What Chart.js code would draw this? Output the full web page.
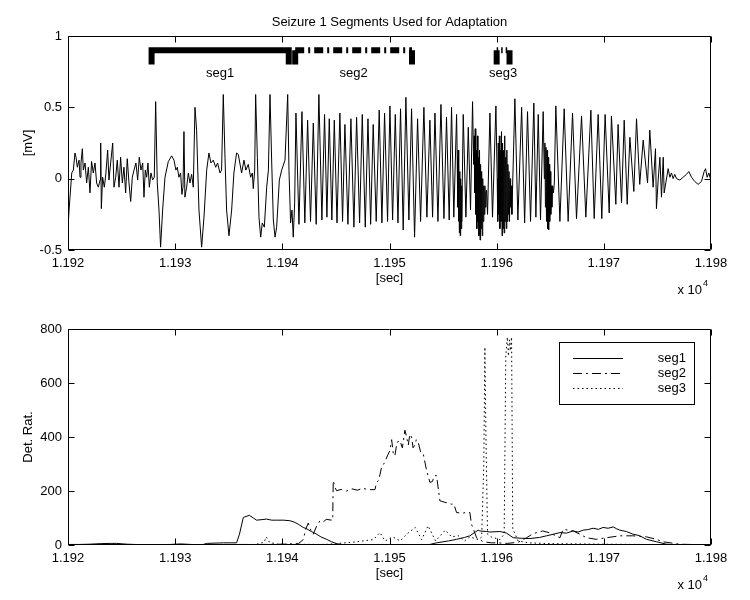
<!DOCTYPE html>
<html>
<head>
<meta charset="utf-8">
<script src="https://cdn.jsdelivr.net/npm/chart.js@4.4.1/dist/chart.umd.min.js"></script>
<style>
  body { margin: 0; background: #fff; }
  #wrap { position: relative; width: 750px; height: 600px; }
  canvas { position: absolute; left: 0; }
  #topChart { top: 0; }
  #bottomChart { top: 300px; }
</style>
</head>
<body>
<div id="wrap">
  <canvas id="topChart" width="750" height="300"></canvas>
  <canvas id="bottomChart" width="750" height="300"></canvas>
</div>
<script>
// EEG trace [sec, mV]
const signal = [
  [11920.0,-0.34],[11920.1,-0.22],[11920.35,0.04],[11920.5,0.06],[11920.65,0.18],[11920.75,0.15],[11920.87,0.08],[11921.03,0.13],
  [11921.12,0.01],[11921.21,0.11],[11921.34,0.21],[11921.43,0.06],[11921.59,0.11],[11921.74,-0.03],[11921.9,0.08],[11922.05,-0.10],
  [11922.2,0.12],[11922.36,0.04],[11922.52,0.11],[11922.67,-0.03],[11922.83,-0.06],[11922.99,-0.01],[11923.05,0.25],[11923.11,-0.21],
  [11923.23,0.01],[11923.39,-0.06],[11923.54,0.04],[11923.7,0.20],[11923.82,-0.01],[11923.98,0.11],[11924.17,0.25],[11924.29,-0.06],
  [11924.45,0.01],[11924.6,0.13],[11924.76,-0.06],[11924.91,0.15],[11925.07,-0.03],[11925.22,0.08],[11925.38,-0.10],[11925.53,0.14],
  [11925.69,-0.03],[11925.85,-0.16],[11926.0,0.01],[11926.16,0.06],[11926.34,0.11],[11926.5,-0.01],[11926.65,0.15],[11926.81,0.06],
  [11926.97,0.11],[11927.09,-0.13],[11927.21,0.06],[11927.34,0.01],[11927.46,0.11],[11927.59,-0.06],[11927.74,0.04],[11927.9,-0.01],
  [11928.05,0.01],[11928.18,0.54],[11928.33,-0.03],[11928.49,-0.22],[11928.64,-0.48],[11928.83,-0.22],[11929.05,0.01],[11929.36,0.12],
  [11929.67,0.16],[11929.89,0.13],[11930.07,0.06],[11930.2,0.08],[11930.35,0.01],[11930.51,0.04],[11930.63,-0.11],[11930.73,-0.06],
  [11930.82,0.33],[11930.91,-0.13],[11931.07,-0.06],[11931.23,0.04],[11931.38,-0.03],[11931.54,0.03],[11931.69,-0.06],[11931.85,0.50],
  [11932.0,0.34],[11932.22,-0.22],[11932.47,-0.48],[11932.69,-0.27],[11932.94,0.06],[11933.15,0.18],[11933.34,0.11],[11933.56,0.13],
  [11933.78,0.08],[11933.96,0.11],[11934.18,0.04],[11934.33,0.06],[11934.49,0.59],[11934.65,0.15],[11934.8,-0.22],[11935.02,-0.40],
  [11935.27,-0.22],[11935.48,0.04],[11935.73,0.18],[11935.89,0.17],[11936.2,0.04],[11936.42,0.13],[11936.6,0.06],[11936.82,0.10],
  [11937.04,0.01],[11937.2,0.04],[11937.29,-0.07],[11937.42,0.06],[11937.51,0.59],[11937.67,0.15],[11937.82,-0.27],[11937.98,-0.41],
  [11938.13,-0.31],[11938.32,-0.34],[11938.54,-0.06],[11938.7,0.06],[11938.85,0.59],[11939.01,0.11],[11939.16,-0.29],[11939.32,-0.41],
  [11939.47,-0.34],[11939.72,-0.01],[11939.94,0.06],[11940.25,0.13],[11940.5,0.59],[11940.62,0.06],[11940.77,-0.31],[11940.9,-0.22],
  [11941.02,-0.41],[11941.15,-0.17],
  [11941.27,0.46],[11941.55,-0.32],[11941.83,0.47],[11942.1,-0.31],[11942.36,0.41],[11942.63,-0.30],[11942.89,0.39],[11943.16,-0.32],
  [11943.41,0.59],[11943.69,-0.29],[11943.94,0.45],[11944.16,-0.27],[11944.38,0.42],[11944.62,-0.29],[11944.85,0.41],[11945.1,-0.31],
  [11945.37,0.46],[11945.62,-0.30],[11945.84,0.38],[11946.12,-0.32],[11946.4,0.42],[11946.68,-0.34],[11946.93,0.43],[11947.21,-0.31],
  [11947.46,0.45],[11947.74,-0.34],[11947.99,0.42],[11948.24,-0.32],[11948.48,0.38],[11948.76,-0.30],[11949.04,0.48],[11949.29,-0.31],
  [11949.54,0.46],[11949.82,-0.30],[11950.04,0.51],[11950.29,-0.29],[11950.54,0.45],[11950.79,-0.31],[11951.03,0.49],[11951.28,-0.36],
  [11951.53,0.57],[11951.81,-0.29],[11952.06,0.49],[11952.34,-0.41],[11952.62,0.42],[11952.9,-0.30],[11953.21,0.50],[11953.49,-0.27],
  [11953.77,0.41],[11954.02,-0.27],[11954.24,0.46],[11954.52,-0.30],[11954.8,0.52],[11955.08,-0.28],[11955.32,0.43],[11955.57,-0.29],
  [11955.79,0.50],[11956.0,-0.27],[11956.26,0.45],
  [11956.32,0.15],[11956.36,-0.2],[11956.40,0.2],[11956.44,-0.3],[11956.48,0.1],[11956.52,-0.38],[11956.56,0.05],[11956.6,-0.4],
  [11956.64,0.0],[11956.68,-0.35],[11956.72,-0.05],[11956.76,-0.3],
  [11956.88,0.45],[11957.13,-0.27],[11957.35,0.36],[11957.56,-0.22],[11957.75,0.54],
  [11957.85,0.1],[11957.9,0.3],[11957.95,-0.1],[11958.0,0.35],[11958.05,-0.25],[11958.1,0.2],[11958.15,-0.35],[11958.2,0.3],
  [11958.25,-0.3],[11958.3,0.15],[11958.35,-0.4],[11958.4,0.2],[11958.45,-0.43],[11958.5,0.1],[11958.55,-0.35],[11958.6,0.05],
  [11958.65,-0.4],[11958.7,0.0],[11958.75,-0.3],[11958.8,-0.05],[11958.85,-0.25],[11958.9,-0.05],[11958.95,-0.2],[11959.0,-0.1],
  [11959.05,-0.08],[11959.15,-0.25],
  [11959.37,0.46],[11959.61,-0.27],[11959.93,0.51],
  [11960.05,0.0],[11960.1,-0.3],[11960.15,0.25],[11960.2,-0.25],[11960.25,0.3],[11960.3,-0.35],[11960.35,0.2],[11960.4,-0.3],
  [11960.45,0.33],[11960.5,-0.4],[11960.55,0.25],[11960.6,-0.35],[11960.65,0.2],[11960.7,-0.38],[11960.75,0.3],[11960.8,-0.3],
  [11960.85,0.15],[11960.9,-0.35],[11960.95,0.2],[11961.0,-0.3],[11961.05,0.1],[11961.1,-0.25],[11961.15,0.05],[11961.2,-0.3],
  [11961.25,0.0],[11961.3,-0.2],[11961.35,-0.05],[11961.42,-0.25],
  [11961.7,0.56],[11961.98,-0.29],[11962.33,0.50],[11962.61,-0.31],[11962.88,0.47],[11963.16,-0.30],[11963.47,0.53],[11963.66,-0.27],
  [11963.88,0.45],[11964.09,-0.29],[11964.34,0.47],
  [11964.45,0.0],[11964.5,0.25],[11964.55,-0.2],[11964.6,0.22],[11964.65,-0.3],[11964.7,0.2],[11964.75,-0.35],[11964.8,0.15],
  [11964.85,-0.36],[11964.9,0.1],[11964.95,-0.3],[11965.0,0.05],[11965.05,-0.25],[11965.1,-0.05],[11965.15,-0.2],[11965.22,-0.05],
  [11965.3,-0.1],[11965.38,-0.03],
  [11965.52,0.51],[11965.9,-0.30],[11966.3,0.49],[11966.67,-0.30],[11967.08,0.46],[11967.45,-0.28],[11967.92,0.44],[11968.32,-0.27],
  [11968.79,0.48],[11969.1,-0.28],[11969.47,0.45],[11969.81,-0.28],[11970.12,0.45],[11970.5,-0.24],[11970.71,0.44],[11971.12,-0.18],
  [11971.33,0.38],[11971.65,-0.17],[11971.9,0.41],[11972.18,-0.18],[11972.43,0.29],[11972.8,-0.09],[11973.05,0.42],[11973.35,-0.04],
  [11973.67,0.27],[11974.08,-0.03],[11974.29,0.34],[11974.6,-0.06],[11974.82,0.21],[11974.91,-0.21],[11975.07,-0.01],[11975.23,0.15],
  [11975.38,-0.13],[11975.54,0.15],[11975.63,-0.10],[11976.0,0.07],
  [11976.16,0.01],[11976.31,0.04],[11976.47,0.0],[11976.62,0.03],[11976.78,0.0],[11977.09,-0.01],[11977.4,0.01],[11977.71,0.03],
  [11977.93,0.05],[11978.18,0.01],[11978.49,-0.02],[11978.8,-0.04],[11979.11,-0.02],[11979.36,0.05],[11979.49,0.07],[11979.64,0.01],
  [11979.8,0.04],[11979.98,-0.01]
];

// adaptation segments [sec]
const segNames = ['seg1', 'seg2', 'seg3'];
const segStart = [11927.8, 11941.2, 11960.0];
const segEnd = [11940.6, 11952.1, 11961.2];

// detection ratio per segment [sec, ratio]
const seg1Ratio = [
  [11920,2],[11921,2],[11922,3],[11923,5],[11924,6],[11924.5,6],[11925.5,3],[11927,1],[11929,1],[11930,3],[11930.5,4],
  [11931.5,2],[11932.5,1],[11933,6],[11934.5,8],[11935.73,8],[11936.0,40],[11936.36,102],[11936.92,110],[11937.3,100],
  [11937.6,92],[11938.1,94],[11938.53,96],[11939.0,92],[11939.47,92],[11940.09,92],[11940.7,90],[11941.1,85],[11941.49,77],
  [11941.95,65],[11942.27,60],[11942.7,50],[11943.2,40],[11943.6,30],[11944.13,21],[11944.6,12],[11945.06,5],[11945.68,1],
  [11948,0],[11951,0],[11953.77,2],[11954.39,8],[11955.5,15],[11956.26,21],[11957.0,28],[11957.5,34],[11958.0,48],
  [11958.28,55],[11958.43,52],[11959.06,50],[11959.37,48],[11960.3,50],[11960.92,44],[11961.54,27],[11962.3,25],[11963.1,24],
  [11964.0,28],[11964.65,34],[11965.3,40],[11965.9,46],[11966.5,44],[11967.14,52],[11967.6,48],[11968.07,55],[11968.5,57],
  [11969.0,62],[11969.5,58],[11969.93,65],[11970.4,62],[11970.87,67],[11971.2,60],[11971.49,55],[11972.1,50],[11972.73,40],
  [11973.3,35],[11973.98,21],[11974.91,12],[11975.84,3],[11977.09,0],[11980,0]
];
const seg2Ratio = [
  [11920,1],[11925,2],[11930,1],[11935,2],[11938,2],[11940,3],[11941.5,5],[11941.95,20],[11942.2,60],[11942.42,81],
  [11942.6,60],[11942.88,40],[11943.2,70],[11943.5,89],[11943.8,85],[11944.1,95],[11944.6,92],[11944.7,92],[11944.75,238],
  [11944.9,215],[11945.06,201],[11945.5,206],[11946,200],[11946.5,208],[11947,203],[11947.5,210],[11948,205],[11948.64,205],
  [11948.8,232],[11949.0,240],[11949.26,288],[11949.57,307],[11949.8,330],[11950.04,350],[11950.2,390],[11950.35,340],
  [11950.5,330],[11950.7,380],[11950.97,387],[11951.2,360],[11951.44,425],[11951.6,400],[11951.75,370],[11951.9,410],
  [11952.06,400],[11952.2,360],[11952.37,370],[11952.5,390],[11952.68,380],[11952.9,345],[11953.15,338],[11953.46,276],
  [11953.77,232],[11954.0,235],[11954.2,257],[11954.39,257],[11954.7,164],[11955.17,158],[11955.5,155],[11955.79,151],
  [11956.0,152],[11956.26,120],[11956.88,118],[11957.2,122],[11957.5,120],[11957.65,77],[11958.13,27],[11958.75,12],
  [11959.5,8],[11960,8],[11961,6],[11962,10],[11962.8,27],[11963.4,42],[11964.3,52],[11964.96,45],[11965.9,27],[11966.2,58],
  [11967.14,52],[11967.76,40],[11968.38,27],[11969.3,21],[11970.25,27],[11971.5,34],[11972.7,34],[11974,30],[11974.9,21],
  [11975.5,12],[11977.1,3],[11980,0]
];
const seg3Ratio = [
  [11920,0],[11930,1],[11935,1],[11937.5,2],[11938.3,10],[11938.5,30],[11938.8,10],[11939.5,3],[11944,2],[11946.5,10],
  [11948.5,20],[11949.1,46],[11949.6,15],[11950.3,30],[11951.0,15],[11951.6,40],[11952.4,65],[11953.0,20],[11953.6,71],
  [11954.3,15],[11955.2,55],[11955.8,30],[11956.4,35],[11957,15],[11957.5,30],[11958.3,20],[11958.6,30],[11958.8,300],
  [11958.9,733],[11959.0,400],[11959.15,40],[11959.5,30],[11960.3,20],[11960.7,40],[11960.85,700],[11961.0,770],
  [11961.1,700],[11961.2,760],[11961.3,720],[11961.39,770],[11961.5,60],[11962,15],[11963,8],[11965,5],[11970,3],[11980,0]
];

const FONT = "'Liberation Sans', Arial, Helvetica, sans-serif";
Chart.defaults.font.family = FONT;
Chart.defaults.font.size = 13;
Chart.defaults.color = '#000';

const DASHDOT = [9, 4, 2, 4];
const DOTTED = [1.5, 3];
const segDash = [[], DASHDOT, DOTTED];
const barLevel = 0.9, legLevel = 0.8, segLabelLevel = 0.74;

const toXY = arr => arr.map(p => ({ x: p[0], y: p[1] }));

// box, inward ticks and the axis texts, matlab style
const frame = {
  id: 'frame',
  afterDraw(chart, args, opts) {
    const { ctx, chartArea: a, scales: { x, y } } = chart;
    const L = Math.round(a.left) + 0.5, R = Math.round(a.right) - 0.5;
    const T = Math.round(a.top) + 0.5, B = Math.round(a.bottom) - 0.5;
    ctx.save();
    ctx.strokeStyle = '#000';
    ctx.lineWidth = 1;
    ctx.beginPath();
    ctx.rect(L, T, R - L, B - T);
    x.ticks.forEach(t => {
      const px = Math.round(x.getPixelForValue(t.value)) + 0.5;
      ctx.moveTo(px, B); ctx.lineTo(px, B - 6);
      ctx.moveTo(px, T); ctx.lineTo(px, T + 6);
    });
    y.ticks.forEach(t => {
      const py = Math.round(y.getPixelForValue(t.value)) + 0.5;
      ctx.moveTo(L, py); ctx.lineTo(L + 6, py);
      ctx.moveTo(R, py); ctx.lineTo(R - 6, py);
    });
    ctx.stroke();

    ctx.fillStyle = '#000';
    ctx.font = '13px ' + FONT;
    ctx.textBaseline = 'middle';
    ctx.textAlign = 'center';
    const midX = (a.left + a.right) / 2;
    if (opts.title) ctx.fillText(opts.title, midX, a.top - 14);
    ctx.fillText(opts.xLabel, midX, a.bottom + 28);
    ctx.textAlign = 'right';
    ctx.fillText('x 10', a.right - 9, a.bottom + 40);
    ctx.font = '9px ' + FONT;
    ctx.textAlign = 'left';
    ctx.fillText('4', a.right - 8, a.bottom + 34);

    ctx.font = '13px ' + FONT;
    ctx.translate(28, (a.top + a.bottom) / 2);
    ctx.rotate(-Math.PI / 2);
    ctx.textAlign = 'center';
    ctx.fillText(opts.yLabel, 0, 0);
    ctx.restore();
  }
};

const segText = {
  id: 'segText',
  afterDatasetsDraw(chart) {
    const { ctx, scales: { x, y } } = chart;
    ctx.save();
    ctx.font = '13px ' + FONT;
    ctx.fillStyle = '#000';
    ctx.textAlign = 'center';
    ctx.textBaseline = 'middle';
    segNames.forEach((name, i) => {
      const mid = (segStart[i] + segEnd[i]) / 2;
      ctx.fillText(name, x.getPixelForValue(mid), y.getPixelForValue(segLabelLevel));
    });
    ctx.restore();
  }
};

const boxLegend = {
  id: 'boxLegend',
  afterDraw(chart, args, opts) {
    const { ctx } = chart;
    const b = opts.box;
    ctx.save();
    ctx.fillStyle = '#fff';
    ctx.fillRect(b.left, b.top, b.width, b.height);
    ctx.strokeStyle = '#000';
    ctx.lineWidth = 1;
    ctx.strokeRect(b.left + 0.5, b.top + 0.5, b.width, b.height);
    ctx.font = '13px ' + FONT;
    ctx.fillStyle = '#000';
    ctx.textAlign = 'right';
    ctx.textBaseline = 'middle';
    chart.data.datasets.forEach((ds, i) => {
      const yy = Math.round(b.top + 16 + i * 15) + 0.5;
      ctx.setLineDash(ds.borderDash || []);
      ctx.beginPath();
      ctx.moveTo(b.left + 14, yy);
      ctx.lineTo(b.left + 64, yy);
      ctx.stroke();
      ctx.setLineDash([]);
      ctx.fillText(ds.label, b.left + b.width - 8, yy);
    });
    ctx.restore();
  }
};

function xScale(height) {
  return {
    type: 'linear', min: 11920, max: 11980,
    ticks: { stepSize: 10, padding: 6, maxRotation: 0, autoSkip: false, callback: v => (v / 10000).toFixed(3) },
    grid: { display: false, drawTicks: false },
    border: { display: false },
    afterFit: s => { s.height = height; }
  };
}

const segDatasets = segNames.map((name, i) => ({
  data: [
    { x: segStart[i], y: legLevel }, { x: segStart[i], y: barLevel },
    { x: segEnd[i], y: barLevel }, { x: segEnd[i], y: legLevel }
  ],
  borderColor: '#000',
  borderWidth: 6,
  borderCapStyle: 'butt',
  borderJoinStyle: 'miter',
  pointRadius: 0,
  segment: { borderDash: ctx => ctx.p0DataIndex === 1 ? segDash[i] : [] }
}));

new Chart(document.getElementById('topChart'), {
  type: 'line',
  data: {
    datasets: [
      { data: toXY(signal), borderColor: '#000', borderWidth: 1, pointRadius: 0, tension: 0 },
      ...segDatasets
    ]
  },
  options: {
    responsive: false, animation: false, devicePixelRatio: 1,
    layout: { padding: { top: 36, right: 39, left: 0, bottom: 0 } },
    plugins: {
      legend: { display: false }, tooltip: { enabled: false },
      frame: { title: 'Seizure 1 Segments Used for Adaptation', xLabel: '[sec]', yLabel: '[mV]' }
    },
    scales: {
      x: xScale(50),
      y: {
        min: -0.5, max: 1,
        ticks: { stepSize: 0.5, padding: 6, callback: v => String(v) },
        grid: { display: false, drawTicks: false },
        border: { display: false },
        afterFit: s => { s.width = 68; }
      }
    }
  },
  plugins: [frame, segText]
});

new Chart(document.getElementById('bottomChart'), {
  type: 'line',
  data: {
    datasets: [
      { label: 'seg1', data: toXY(seg1Ratio), borderColor: '#000', borderWidth: 1, pointRadius: 0 },
      { label: 'seg2', data: toXY(seg2Ratio), borderColor: '#000', borderWidth: 1, pointRadius: 0, borderDash: DASHDOT },
      { label: 'seg3', data: toXY(seg3Ratio), borderColor: '#000', borderWidth: 1, pointRadius: 0, borderDash: DOTTED }
    ]
  },
  options: {
    responsive: false, animation: false, devicePixelRatio: 1,
    layout: { padding: { top: 29, right: 39, left: 0, bottom: 0 } },
    plugins: {
      legend: { display: false }, tooltip: { enabled: false },
      frame: { xLabel: '[sec]', yLabel: 'Det. Rat.' },
      boxLegend: { box: { left: 559, top: 42, width: 135, height: 62 } }
    },
    scales: {
      x: xScale(55),
      y: {
        min: 0, max: 800,
        ticks: { stepSize: 200, padding: 6 },
        grid: { display: false, drawTicks: false },
        border: { display: false },
        afterFit: s => { s.width = 68; }
      }
    }
  },
  plugins: [frame, boxLegend]
});
</script>
</body>
</html>
